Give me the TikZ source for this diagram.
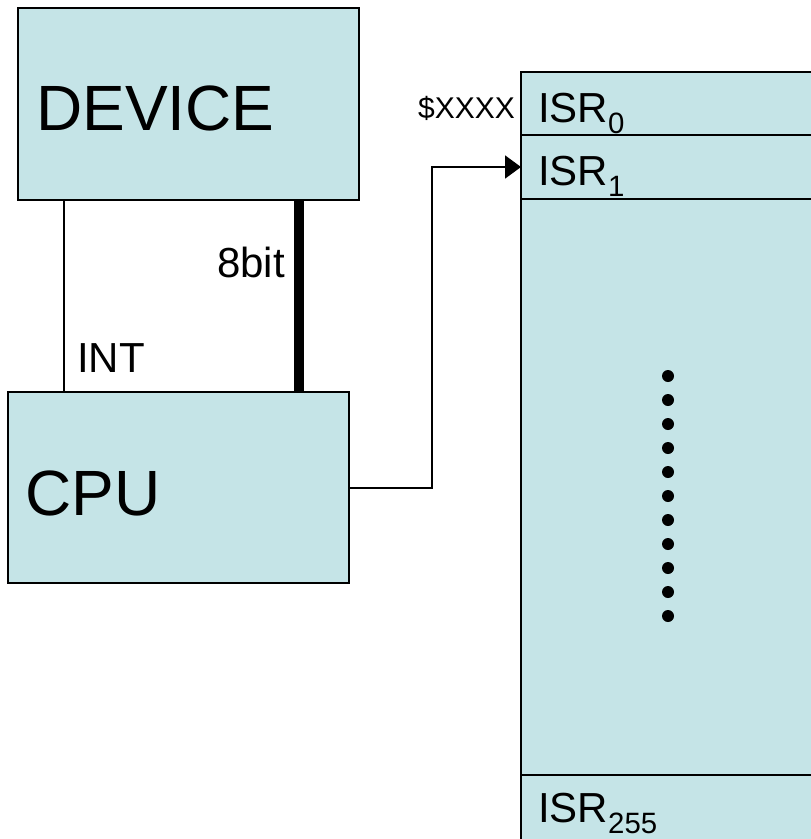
\documentclass[tikz,border=0pt]{standalone}
\usepackage{fontspec}
\setmainfont{Liberation Sans}
\usetikzlibrary{positioning,arrows.meta}
\definecolor{boxfill}{RGB}{197,228,231}
\tikzset{
  unit/.style={draw, line width=2pt, fill=boxfill, inner sep=0pt, outer sep=0pt, anchor=north west},
  wire/.style={line width=2pt},
  bus/.style={line width=10pt},
  bigtxt/.style={inner sep=0pt, font=\fontsize{64}{70}\selectfont},
  midtxt/.style={inner sep=0pt, font=\fontsize{42}{48}\selectfont},
  smalltxt/.style={inner sep=0pt, font=\fontsize{30}{34}\selectfont}
}

\begin{document}
\begin{tikzpicture}[x=1pt,y=-1pt]
\useasboundingbox (0,0) rectangle (811,839);
\clip (0,0) rectangle (811,839);
% device and cpu
\node[unit, minimum width=341pt, minimum height=192pt] (device) at (18,8) {};
\node[unit, minimum width=341pt, minimum height=191pt] (cpu) at (8,392) {};
\node[bigtxt, anchor=base west] (devlabel) at (36,130) {DEVICE};
\node[bigtxt, anchor=base west] (cpulabel) at (25,515) {CPU};
\draw[wire] ([xshift=46pt]device.south west) -- ([xshift=56pt]cpu.north west);
\draw[bus] ([xshift=281pt]device.south west) -- ([xshift=291pt]cpu.north west);
\node[midtxt, anchor=base east] (buslabel) at (285,277) {8bit};
\node[midtxt, anchor=base west] (intlabel) at (77,372) {INT};
% vector table
\node[unit, minimum width=320pt, minimum height=63pt] (isr0) at (521,72) {};
\node[unit, minimum width=320pt, minimum height=64pt, below=0pt of isr0] (isr1) {};
\node[unit, minimum width=320pt, minimum height=576pt, below=0pt of isr1] (body) {};
\node[unit, minimum width=320pt, minimum height=90pt, below=0pt of body] (isr255) {};
\node[midtxt, anchor=base west] (t0) at (538,122) {ISR\textsubscript{0}};
\node[midtxt, anchor=base west] (t1) at (538,185) {ISR\textsubscript{1}};
\node[midtxt, anchor=base west] (t255) at (538,822) {ISR\textsubscript{255}};
\node[smalltxt, anchor=base east] (addr) at (515,118) {\$XXXX};
\foreach \i in {0,...,10}
  \fill (668,376+24*\i) circle (6pt);
\draw[wire, -{Triangle[length=16pt,width=23pt]}] (cpu.east) -- ++(83,0) |- (isr1.west);
\end{tikzpicture}
\end{document}
